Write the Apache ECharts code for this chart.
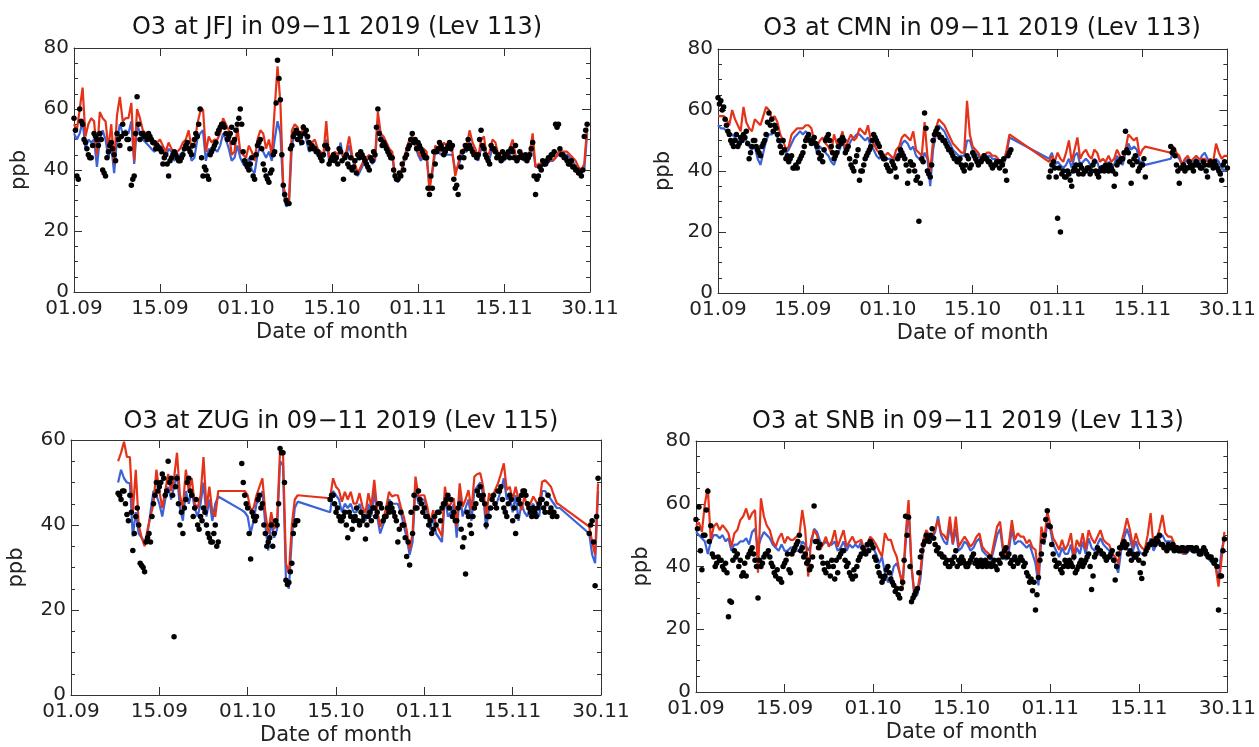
<!DOCTYPE html>
<html>
<head>
<meta charset="utf-8">
<script src="https://cdn.jsdelivr.net/npm/echarts@6/dist/echarts.min.js"></script>
<style>
html,body{margin:0;padding:0;background:#fff;}
#chart{width:1259px;height:747px;}
</style>
</head>
<body>
<div id="chart"></div>
<script>
// Sampling step of all series, in days since 01.09 (index i -> day i*0.5)
const STEP_DAYS = 0.5;
// second observation set is sampled between the first ones (day i*0.5 + 0.25)
const OBS2_OFFSET = 0.25;
const xTickLabels = ['01.09','15.09','01.10','15.10','01.11','15.11','30.11'];
const titles = [
  'O3 at JFJ in 09\u221211 2019 (Lev 113)',
  'O3 at CMN in 09\u221211 2019 (Lev 113)',
  'O3 at ZUG in 09\u221211 2019 (Lev 115)',
  'O3 at SNB in 09\u221211 2019 (Lev 113)'
];
const yMaxes = [80, 80, 60, 80];

// ---------------- JFJ ----------------
const jfjRed = [
55,53,60,67,51,55,57,56,45,59,
57,56,47,55,42,58,64,56,57,57,
62,43,60,57,53,52,50,49,48,49,
50,48,46,49,47,45,46,47,49,50,
53,47,48,55,59,60,46,51,49,50,
50,52,57,55,53,45,46,54,46,45,
44,48,46,43,50,53,52,47,50,45,
60,74,62,35,31,30,53,55,54,50,
55,52,48,49,50,47,46,45,56,44,
45,46,45,47,44,46,51,45,42,39,
41,43,44,45,43,44,59,52,51,49,
47,46,38,37,39,43,47,50,51,49,
46,44,47,46,33,40,48,47,46,49,
48,47,46,38,42,46,47,48,53,49,
47,44,50,51,44,46,50,49,45,46,
44,45,47,50,45,44,45,44,45,46,
52,41,42,42,43,43,44,43,44,46,
46,46,46,45,44,43,41,40,42,54,
null];
const jfjBlue = [
52,50,52,56,47,50,49,50,41,50,
53,50,44,48,39,50,55,52,53,52,
56,42,55,52,50,49,48,47,46,47,
48,47,44,47,46,43,44,45,46,47,
48,43,44,50,52,53,43,47,46,47,
46,48,52,50,47,43,44,48,44,42,
41,44,40,39,45,48,46,44,46,43,
50,56,52,33,28,29,48,52,53,48,
53,50,46,47,48,45,45,44,50,43,
44,45,44,49,43,45,48,44,41,38,
40,42,43,44,42,43,56,51,50,48,
46,45,37,36,38,42,46,49,50,48,
45,43,45,44,35,39,46,46,45,46,
45,45,45,40,41,44,46,46,49,46,
45,43,47,48,43,44,47,46,44,44,
43,44,45,47,44,43,44,43,44,45,
48,41,41,41,42,42,43,43,44,45,
45,45,45,44,43,41,40,39,40,52,
null];
const jfjObs = [
57,38,60,55,49,45,44,52,50,52,
40,38,46,49,45,52,48,55,52,50,
35,38,64,50,52,51,52,50,49,48,
47,42,45,38,44,46,44,43,45,48,
47,45,50,51,60,38,40,37,46,48,
52,54,55,52,51,54,50,55,60,46,
42,40,44,37,48,50,42,38,36,40,
46,76,63,35,30,29,48,52,50,51,
54,53,49,48,47,46,44,45,48,42,
44,43,42,46,37,45,41,40,43,45,
46,44,42,40,43,45,60,50,49,47,
45,44,38,37,38,40,45,48,52,50,
49,47,45,44,32,34,42,47,48,45,
47,49,48,34,32,41,44,47,48,46,
45,45,53,47,44,42,47,46,45,43,
44,45,44,46,48,44,45,44,43,45,
49,32,38,40,42,43,44,45,55,55,
45,44,43,42,41,40,39,38,51,55,
null];
const jfjObs2 = [
53,37,56,50,47,44,48,51,48,50,
39,44,48,47,43,50,51,52,50,47,
37,52,55,52,51,50,51,49,47,47,
46,44,42,43,45,45,43,44,47,49,
46,48,52,55,44,41,38,45,47,49,
53,55,54,50,52,49,53,57,55,43,
41,42,38,45,49,47,40,37,39,45,
62,70,45,32,29,47,51,53,52,49,
52,51,47,47,46,45,43,48,47,43,
45,44,47,43,44,42,44,41,39,44,
45,43,41,44,46,54,52,48,48,46,
44,40,37,39,42,44,47,50,49,47,
48,46,44,34,38,46,46,49,47,46,
48,47,37,35,44,46,48,50,47,45,
44,50,48,45,43,48,47,44,44,46,
45,46,47,44,43,46,44,45,44,47,
38,37,41,43,42,44,45,46,54,47,
45,44,42,43,41,40,39,40,53,null];

// ---------------- CMN ----------------
const cmnRed = [
58,58,58,57,55,60,57,55,53,61,
56,54,53,57,56,55,58,61,60,57,
58,56,52,50,47,48,52,53,54,54,
54,55,55,54,50,48,50,51,49,48,
46,52,49,50,53,47,50,52,50,51,
54,53,52,55,50,49,47,46,46,45,
46,45,44,47,48,51,52,51,50,53,
47,46,45,56,45,40,50,54,57,56,
55,53,51,49,48,47,46,46,63,52,
48,47,46,44,45,46,46,45,45,44,
42,43,47,52,null,null,null,null,null,null,
null,null,null,null,null,null,null,43,45,43,
46,44,43,46,50,43,47,51,44,46,
47,45,44,47,46,43,44,43,45,43,
44,47,45,44,47,52,51,50,51,45,
47,48,null,null,null,null,null,null,null,null,
46,48,46,45,42,44,45,43,44,45,
44,44,44,43,44,43,49,46,44,45,
45];
const cmnBlue = [
55,54,54,53,52,52,51,50,49,52,
50,48,47,48,44,42,46,50,52,52,
53,51,49,47,46,47,49,51,52,53,
52,53,52,51,49,46,48,47,46,45,
43,42,45,47,50,46,48,50,51,52,
52,51,50,51,48,47,45,44,45,44,
44,44,43,45,46,49,50,49,47,48,
45,44,43,46,44,35,47,52,55,54,
53,51,49,47,46,45,45,45,50,50,
47,46,45,43,44,45,45,44,44,43,
42,42,46,51,null,null,null,null,null,null,
null,null,null,null,null,null,null,44,46,42,
43,42,41,42,44,41,45,46,42,43,
44,43,41,44,43,40,42,41,43,42,
42,45,43,42,46,49,47,48,47,43,
43,42,null,null,null,null,null,null,null,null,
44,47,45,44,42,43,44,42,43,44,
43,45,46,44,43,42,44,43,41,40,
41];
const cmnObs = [
64,63,61,55,52,49,50,48,51,52,
53,44,48,50,47,45,49,52,59,57,
55,52,48,50,44,43,45,41,41,44,
46,50,52,49,51,48,44,43,50,52,
48,44,46,50,51,46,48,42,40,45,
37,40,44,46,48,52,50,48,45,44,
41,40,42,38,45,46,44,36,43,42,
37,23.5,44,59,40,38,50,53,52,51,
50,48,47,45,44,43,42,40,45,41,
46,44,42,43,45,44,43,41,42,43,
43,44,37,46,null,null,null,null,null,null,
null,null,null,null,null,null,null,38,42,41,
24.5,20,40,38,39,35,41,40,42,39,
40,41,40,43,39,40,41,42,40,41,
35,42,43,44,53,46,36,44,43,41,
42,38,null,null,null,null,null,null,null,null,
48,47,42,36,41,40,41,42,40,43,
42,41,42,38,43,41,42,40,37,43,
41];
const cmnObs2 = [
62,60,57,53,50,48,52,49,50,51,
49,46,50,48,46,48,50,56,55,53,
54,50,46,47,45,44,41,42,43,45,
48,51,50,50,49,46,45,47,51,50,
46,45,48,49,50,47,44,41,43,47,
40,42,45,47,50,51,49,46,44,42,
40,43,41,44,47,45,42,40,42,40,
38,36,43,54,39,42,52,54,51,50,
49,47,46,44,43,44,41,42,44,42,
45,43,43,44,44,43,42,42,43,41,
42,40,45,47,null,null,null,null,null,null,
null,null,null,null,null,null,null,40,43,38,
41,39,38,40,37,40,42,39,41,40,
41,39,42,40,38,41,40,41,42,40,
39,43,44,46,47,43,42,45,40,42,
44,null,null,null,null,null,null,null,null,null,
46,45,40,41,42,41,43,41,42,42,
41,43,40,42,42,43,41,39,42,null];

// ---------------- ZUG ----------------
const zugRed = [
null,null,null,null,null,null,null,null,null,null,
null,null,null,null,null,null,55,57,59.6,56,
56,43,53,40,37,35,39,42,45,53,
48,44,48,52,48,51,57,47,44,53,
48,51,45,44,47,56,44,49,43,42,
48,null,null,null,null,null,null,null,48,48,
47,43.5,44,47,49,51,43,38,43,39,
41,57.6,57,31,28.6,40,46,47,null,null,
null,null,null,null,null,null,null,null,46.3,51,
49,48.2,45.5,47.8,46,47.8,45,45.1,47.5,44.3,
42.8,47.5,44.3,50.6,43.5,39.6,41.2,44,47.8,46.7,
47,47,44.3,42,38.8,34.1,38,51.4,46.7,47,
47,44.3,40.4,43.5,40,38.8,37.3,49,44.3,45,
46.3,39.6,49.8,44.3,46,48.2,43.5,51.4,52,52.2,
49,42,47.5,45.9,48.2,49.8,52,54.5,48.2,49,
45.9,49,46,43.5,46.7,44.3,45,46.7,45.5,44.3,
50.2,50.5,49.8,49,47,45.1,44.7,null,null,null,
null,null,null,null,null,null,39.6,36,33,49.8,
null];
const zugBlue = [
null,null,null,null,null,null,null,null,null,null,
null,null,null,null,null,null,50,53,51,50,
49.8,37.3,43,38,37,36,38,43,48,47,
45,42,46,49,46,49,52,44,41,48,
45,48,44,42,45,50,42,46,41,45,
46.7,null,null,null,null,null,null,null,43.5,43,
42,38,41,45,46,48,40,34,41,37,
39,55,54,27,25,37,44,45.5,null,null,
null,null,null,null,null,null,null,null,43,48,
47,46,43,45,44,45,43,43,45,42,
41,45,42,48,42,38,40,42,46,45,
45,45,43,40,37,33,36,49,45,46,
46,43,39,42,38,37,36,47,42,43,
45,37,48,42,44,46,41,48,49,50,
47,39,44,44,44,46,48,51,46,47,
43,47,41,45,43,42,44,45,43,42,
48,48,47,46,45,44,44,null,null,null,
null,null,null,null,null,null,38,33,31,48,
null];
const zugObs = [
null,null,null,null,null,null,null,null,null,null,
null,null,null,null,null,null,47.5,46,48,42.5,
47,34,42,40,30.5,29,37,36,45,50,
49,52,47,55,51,13.7,51,40,38,46,
51,47,44,40,42,44,40,37,36,40,
36,null,null,null,null,null,null,null,54.5,47,
44,32,42,42,47,45,38,36,40,38,
40,58,57,27,26.5,31,40,41,null,null,
null,null,null,null,null,null,null,null,46,47,
43,42,41,43,37,42,41,44,40,41,
36.7,42,41,44,43,45,41,42,43,44,
42,36,43,40,32.6,30.6,38,44,48,45,
44,42,41,39,40,43,44,45,47,46,
43,41,45,34.8,28.5,42,38,44,48,49,
47,40,42,46,45,48,49,44,42,47,
41,38,46,47,48,45,43,44,42,45,
46,43,47,44,43,42,null,null,null,null,
null,null,null,null,null,null,38,41,25.7,51,
null];
const zugObs2 = [
null,null,null,null,null,null,null,null,null,null,
null,null,null,null,null,null,47,48,45,41,
43,38,44,31,30,36,38,42,47,48,
50,51,48,50,47,49,45,43,44,50,
48,42,46,39,41,43,38,36,38,35,
null,null,null,null,null,null,null,null,50,45,
38,43,41,46,44,40,35,37,35,41,
45,57,50,26,29,38,41,null,null,null,
null,null,null,null,null,null,null,null,47,45,
44,41,42,40,43,39,42,41,43,42,
40,43,44,42,45,44,42,44,45,43,
41,39,40,37,36,43,47,44,46,43,
42,40,38,42,43,41,45,46,44,42,
41,44,39,37,43,40,42,45,47,46,
45,42,44,47,44,48,46,43,45,46,
44,42,45,48,47,44,42,43,44,46,
44,45,43,42,null,null,null,null,null,null,
null,null,null,null,null,null,40,36,42,null];

// ---------------- SNB ----------------
const snbRed = [
53,54,51,60,65,48.5,52.7,53.8,51.6,53.2,
52,50.6,46.3,50.6,51.6,54.8,56,58.5,55,57,
58,38,61.7,56,53,51.6,48,46.3,49,50.6,
47.4,49.5,48.5,48.5,49.5,50,58,51.6,36.8,48.5,
51.6,50,45.3,47,49.5,46.3,48,51.6,46.3,49,
51.6,46.3,48,49.5,47.4,48,48.5,45.3,47,49.5,
48.5,47,45,43.1,50.6,48.5,48.5,45.3,43.1,38,
33.6,50,61.2,40,31.5,32.5,37.8,48.5,51.6,50,
49.5,52,54.8,50.6,50,48.5,55.9,47.4,55.9,46.3,
48,49.5,48,46.3,47.5,49.5,50.6,46.3,45,44.2,
43.1,48,52.7,54.3,46,43.1,47.4,54.8,48.5,50.6,
49.5,49.5,47.4,48.5,46,45.3,36.8,52.7,48.5,57.5,
53.2,49,47.4,45.3,48.5,45.3,47,50.6,43.1,48.5,
46.3,50.6,45.3,51.6,49,47.4,49.5,51.6,48.5,47.5,
46.9,44.2,43,41,47.4,51,55.4,51.6,46.3,50.6,
47.4,46,45.3,50,57,46.3,48.5,52,56.4,50.6,
49.5,49.5,47.4,46,45.3,44.2,44.2,46.3,45.8,45.3,
45.3,45.3,44.5,43.5,42.5,41.5,40,33.6,42,51,
null];
const snbBlue = [
51,50,49,48,44,48,50,50,49,50,
48,49,45,47,47,48,48,49,47,51,
52,46,49,51,50,49,47,46,45,47,
45,45,46,46,45,45,48,47,45,47,
52,51,48,47,48,47,47,48,45,46,
48,45,47,46,47,46,48,44,45,48,
46,44,41,43,38,35,36,40,41,38,
35,47,59,40,30,31,36,46,50,49,
49,51,56,50,48,47,53,47,52,45,
46,48,47,45,46,48,49,45,44,43,
42,46,50,52,45,42,45,52,47,48,
48,47,46,47,44,41,34,49,47,54,
52,47,45,43,46,44,44,47,42,46,
44,48,44,49,46,45,47,49,47,46,
45,43,41,38,45,49,52,49,45,48,
45,44,44,46,49,45,47,49,50,48,
48,48,47,45,45,44,44,45,45,45,
45,45,44,43,42,41,40,36,45,49,
null];
const snbObs = [
55,59,39,50,64,53,43,41,42,40,
41,24,28.6,45,44,42,38,37,44,46,
42,30,40,43,44,43,40,37,36,35,
41,44,38,45,47,50,46,44,42,40,
59.3,48,47,41,38,40,42,36,38,44,
45,40,38,36,37,42,44,45,47,48,
46,42,38,35,37,40,36,34,33,30,
35,56,55.7,28.8,31,33,43,47,50,48,
52,47,46,44,43,42,40,41,45,42,
43,41,40,42,44,42,41,40,42,41,
40,42,39,41,43,46,44,42,43,41,
43,40,38,35,32.3,26.1,36.5,44,50,57.8,
52.7,44,40,41,38,42,40,41,43,39,
41,40,42,44,32.7,43,46,45,44,42,
43,45,35.7,44,46,48,47,45,44,43,
42,36.2,44,46,47,48,49,50,47,46,
47,46,45,46,45,46,45,46,46,45,
45,44,46,44,43,42,42,26.1,37,48.8,
null];
const snbObs2 = [
52,45,50,58,48,44,40,43,42,39,
38,29,42,43,40,37,41,43,45,44,
40,42,41,44,45,41,38,39,36,40,
42,39,44,46,48,45,43,41,39,43,
48,46,43,39,41,37,40,42,43,45,
42,41,37,39,40,43,46,44,45,47,
43,40,37,36,39,38,35,32,31,33,
42,50,40,30,32,38,45,48,49,50,
49,45,44,43,41,40,42,43,40,41,
42,40,41,43,41,40,42,41,40,43,
41,40,42,44,45,43,41,40,42,42,
42,41,37,36,35,31,42,48,55,53,
47,42,41,39,40,41,42,40,38,40,
42,41,43,40,37,44,45,44,43,43,
44,42,40,46,47,46,44,42,43,44,
38,41,45,47,48,47,48,47,46,45,
46,47,46,45,46,45,46,46,45,46,
44,45,45,43,43,41,40,37,45,null];

const reds  = [jfjRed, cmnRed, zugRed, snbRed];
const blues = [jfjBlue, cmnBlue, zugBlue, snbBlue];
const obss  = [jfjObs, cmnObs, zugObs, snbObs];
const obss2 = [jfjObs2, cmnObs2, zugObs2, snbObs2];

// ---------- layout (not data) ----------
const grids = [
  {left: 74,  top: 48,  width: 516, height: 244},
  {left: 718, top: 49,  width: 518, height: 244},
  {left: 71,  top: 440, width: 530, height: 255},
  {left: 696, top: 441, width: 534, height: 251}
];
const titleTops = [11, 12, 405, 405];

const FONT = 'DejaVu Sans';
const AX = '#333';
const RED = '#e5331a';
const BLUE = '#3b62d8';

function toPairs(arr, offset) {
  const out = [];
  arr.forEach((v, i) => { if (v !== null) out.push([i * STEP_DAYS + offset, v]); });
  return out;
}

const option = {
  animation: false,
  backgroundColor: '#fff',
  title: [], grid: [], xAxis: [], yAxis: [], series: []
};

grids.forEach((g, k) => {
  option.grid.push(Object.assign({containLabel: false}, g));
  option.title.push({
    text: titles[k],
    left: g.left + g.width / 2,
    top: titleTops[k],
    textAlign: 'center',
    textStyle: {fontFamily: FONT, fontSize: 24, fontWeight: 'normal', color: '#151515'}
  });
  const tickCommon = {show: true, inside: true, length: 8, lineStyle: {color: AX, width: 1}};
  option.xAxis.push({
    type: 'value', gridIndex: k, position: 'bottom', min: 0, max: 90, interval: 15,
    axisLine: {show: true, onZero: false, lineStyle: {color: AX, width: 1}},
    axisTick: tickCommon,
    splitLine: {show: false},
    axisLabel: {
      show: true, margin: 7, fontFamily: FONT, fontSize: 20, color: '#222',
      showMinLabel: true, showMaxLabel: true,
      formatter: v => xTickLabels[Math.round(v / 15)] || ''
    },
    name: 'Date of month', nameLocation: 'middle', nameGap: 30,
    nameTextStyle: {fontFamily: FONT, fontSize: 21, color: '#222'}
  });
  option.xAxis.push({
    type: 'value', gridIndex: k, position: 'top', min: 0, max: 90, interval: 15,
    axisLine: {show: true, onZero: false, lineStyle: {color: AX, width: 1}},
    axisTick: tickCommon, axisLabel: {show: false}, splitLine: {show: false}
  });
  const ymax = yMaxes[k];
  option.yAxis.push({
    type: 'value', gridIndex: k, position: 'left', min: 0, max: ymax, interval: 20,
    axisLine: {show: true, onZero: false, lineStyle: {color: AX, width: 1}},
    axisTick: tickCommon,
    minorTick: {show: true, splitNumber: 4, length: 4, lineStyle: {color: AX, width: 1}},
    splitLine: {show: false},
    axisLabel: {show: true, margin: 5, fontFamily: FONT, fontSize: 20, color: '#222'},
    name: 'ppb', nameLocation: 'middle', nameGap: 44, nameRotate: 90,
    nameTextStyle: {fontFamily: FONT, fontSize: 21, color: '#222'}
  });
  option.yAxis.push({
    type: 'value', gridIndex: k, position: 'right', min: 0, max: ymax, interval: 20,
    axisLine: {show: true, onZero: false, lineStyle: {color: AX, width: 1}},
    axisTick: tickCommon,
    minorTick: {show: true, splitNumber: 4, length: 4, lineStyle: {color: AX, width: 1}},
    splitLine: {show: false}, axisLabel: {show: false}
  });
  const xi = 2 * k, yi = 2 * k;
  option.series.push({
    type: 'line', xAxisIndex: xi, yAxisIndex: yi, data: toPairs(blues[k], 0),
    symbol: 'none', connectNulls: true, lineStyle: {color: BLUE, width: 2.2}, z: 2
  });
  option.series.push({
    type: 'line', xAxisIndex: xi, yAxisIndex: yi, data: toPairs(reds[k], 0),
    symbol: 'none', connectNulls: true, lineStyle: {color: RED, width: 2.2}, z: 3
  });
  option.series.push({
    type: 'scatter', xAxisIndex: xi, yAxisIndex: yi, data: toPairs(obss[k], 0),
    symbol: 'circle', symbolSize: 5.5, itemStyle: {color: '#000', opacity: 1}, z: 4
  });
  option.series.push({
    type: 'scatter', xAxisIndex: xi, yAxisIndex: yi, data: toPairs(obss2[k], OBS2_OFFSET),
    symbol: 'circle', symbolSize: 5.5, itemStyle: {color: '#000', opacity: 1}, z: 4
  });
});

const chart = echarts.init(document.getElementById('chart'), null, {renderer: 'canvas'});
chart.setOption(option);
</script>
</body>
</html>
